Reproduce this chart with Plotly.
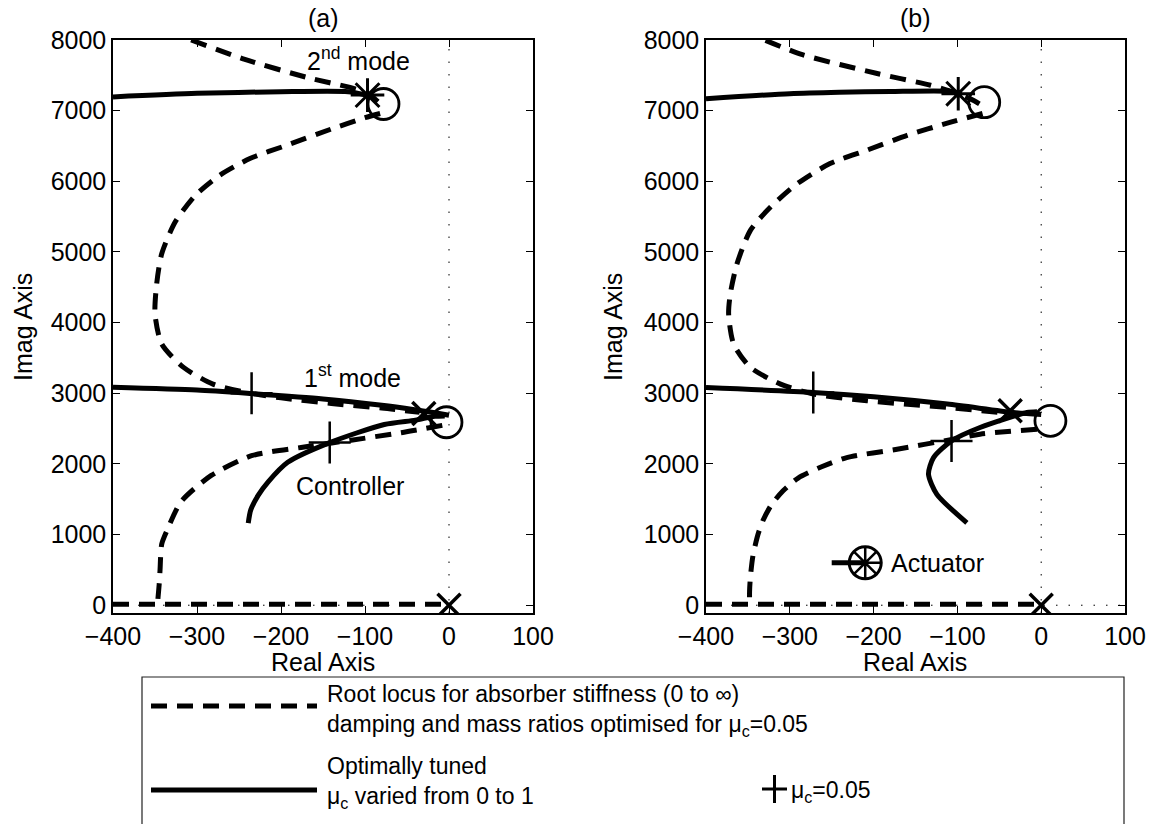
import plotly.graph_objects as go

W, H = 1155, 824

# ---------------- data ----------------
# panel (a)
a_dash_top_x = [-307, -244, -169, -111, -95, -85, -76]
a_dash_top_y = [8000, 7730, 7470, 7306, 7230, 7130, 7030]
a_dash_s_x = [-82, -100, -140, -193, -237, -273, -302, -326, -342, -348, -350, -342, -316, -281, -241, -200, -140, -80, -35]
a_dash_s_y = [6960, 6900, 6740, 6511, 6322, 6085, 5801, 5423, 4974, 4549, 4123, 3697, 3366, 3130, 3012, 2935, 2855, 2790, 2730]
a_dash_low_x = [-8, -57, -136, -176, -235, -283, -319, -336, -342, -344, -345, -347]
a_dash_low_y = [2545, 2442, 2302, 2233, 2116, 1837, 1465, 1050, 865, 500, 298, 30]
a_dash_real_x = [-400, 0]
a_dash_real_y = [15, 15]
a_sol_2nd_x = [-400, -300, -200, -120, -100]
a_sol_2nd_y = [7195, 7245, 7268, 7268, 7225]
a_sol_1st_x = [-400, -300, -235, -150, -80, -41, -15, 0]
a_sol_1st_y = [3084, 3045, 2995, 2920, 2830, 2767, 2720, 2690]
a_sol_ctrl_x = [-5, -17, -40, -77, -142, -192, -215, -227, -236, -239]
a_sol_ctrl_y = [2680, 2674, 2620, 2558, 2302, 2023, 1750, 1558, 1350, 1163]
a_zero_x = [-78, -3]
a_zero_y = [7094, 2590]
a_pole_x = [-30, 0]
a_pole_y = [2715, 0]
a_star_x = [-97]
a_star_y = [7220]
a_plus_x = [-235, -142]
a_plus_y = [3000, 2302]

# panel (b)
b_dash_top_x = [-329, -285, -197, -132, -99, -80, -66]
b_dash_top_y = [7995, 7793, 7529, 7360, 7240, 7140, 7040]
b_dash_s_x = [-70, -110, -160, -208, -252, -291, -323, -347, -363, -371, -373, -367, -347, -311, -272, -208, -112, -33]
b_dash_s_y = [6960, 6830, 6650, 6440, 6251, 5967, 5636, 5305, 4833, 4407, 4123, 3697, 3366, 3130, 2989, 2894, 2799, 2707]
b_dash_low_x = [-5, -73, -105, -172, -232, -262, -290, -308, -322, -332, -338, -344, -347, -348, -348]
b_dash_low_y = [2492, 2421, 2350, 2208, 2090, 1960, 1800, 1620, 1420, 1200, 1000, 700, 400, 200, 20]
b_dash_real_x = [-400, 0]
b_dash_real_y = [15, 15]
b_sol_2nd_x = [-400, -300, -241, -180, -110, -99]
b_sol_2nd_y = [7170, 7240, 7260, 7272, 7274, 7240]
b_sol_1st_x = [-400, -272, -200, -112, -33, 0]
b_sol_1st_y = [3082, 3012, 2950, 2847, 2728, 2700]
b_sol_act_x = [-5, -17, -73, -107, -128.5, -134.5, -124.5, -88.7]
b_sol_act_y = [2740, 2728, 2515, 2326, 2090, 1854, 1570, 1167]
b_zero_x = [-68, 11]
b_zero_y = [7120, 2610]
b_pole_x = [-37, 0]
b_pole_y = [2752, 0]
b_star_x = [-99]
b_star_y = [7240]
b_plus_x = [-272, -107]
b_plus_y = [3010, 2326]
b_act_line_x = [-250, -210]
b_act_line_y = [600, 600]

x_ticks = [-400, -300, -200, -100, 0, 100]
y_ticks = [0, 1000, 2000, 3000, 4000, 5000, 6000, 7000, 8000]
x_range = [-400, 100]
y_range = [-110, 8000]

# ---------------- figure ----------------
DASH = "16px,10px"
LW = 5
fig = go.Figure()


def line(x, y, dash, xa, ya, w=LW, smooth=True):
    ln = dict(color="black", width=w, dash=dash)
    if smooth and len(x) > 2:
        ln.update(shape="spline", smoothing=0.7)
    fig.add_trace(go.Scatter(x=x, y=y, mode="lines", xaxis=xa, yaxis=ya, line=ln,
                             showlegend=False, hoverinfo="skip"))


def marks(x, y, symbol, size, lw, xa, ya):
    fig.add_trace(go.Scatter(x=x, y=y, mode="markers", xaxis=xa, yaxis=ya,
                             marker=dict(symbol=symbol, size=size, color="black",
                                         line=dict(color="black", width=lw)),
                             showlegend=False, hoverinfo="skip"))


for xa, ya, d in [("x", "y", "a"), ("x2", "y2", "b")]:
    g = globals()
    line(g[d + "_dash_top_x"], g[d + "_dash_top_y"], DASH, xa, ya)
    line(g[d + "_dash_s_x"], g[d + "_dash_s_y"], DASH, xa, ya)
    line(g[d + "_dash_low_x"], g[d + "_dash_low_y"], DASH, xa, ya)
    line(g[d + "_dash_real_x"], g[d + "_dash_real_y"], DASH, xa, ya)
    line(g[d + "_sol_2nd_x"], g[d + "_sol_2nd_y"], "solid", xa, ya)
    line(g[d + "_sol_1st_x"], g[d + "_sol_1st_y"], "solid", xa, ya)
    third = a_sol_ctrl_x if d == "a" else b_sol_act_x
    third_y = a_sol_ctrl_y if d == "a" else b_sol_act_y
    line(third, third_y, "solid", xa, ya)
    marks(g[d + "_zero_x"], g[d + "_zero_y"], "circle-open", 31, 2.8, xa, ya)
    marks(g[d + "_pole_x"], g[d + "_pole_y"], "x-thin-open", 23, 3.5, xa, ya)
    marks(g[d + "_star_x"], g[d + "_star_y"], "asterisk-open", 28, 3, xa, ya)
    marks(g[d + "_plus_x"], g[d + "_plus_y"], "cross-thin-open", 30, 2.5, xa, ya)

# actuator legend glyph in panel (b)
line(b_act_line_x, b_act_line_y, "solid", "x2", "y2", w=5, smooth=False)
marks(b_act_line_x[-1:], b_act_line_y[-1:], "circle-open", 32, 3, "x2", "y2")
marks(b_act_line_x[-1:], b_act_line_y[-1:], "asterisk-open", 26, 2.5, "x2", "y2")


def px(x):
    return x / W


def py(y):
    return 1 - y / H


FONT = "Liberation Sans, Arial, Helvetica, sans-serif"
FS = 25
axis_common = dict(range=x_range, tickvals=x_ticks, ticks="inside", ticklen=7,
                   showline=True, linecolor="black", linewidth=1.5, mirror="ticks",
                   showgrid=False, zeroline=False, tickcolor="black", automargin=False,
                   tickfont=dict(size=FS, color="black", family=FONT))
yaxis_common = dict(range=y_range, tickvals=y_ticks, ticks="inside", ticklen=7,
                    showline=True, linecolor="black", linewidth=1.5, mirror="ticks",
                    showgrid=False, zeroline=False, tickcolor="black", automargin=False,
                    tickfont=dict(size=FS, color="black", family=FONT))

ytop, ybot = 40, 613
fig.update_layout(
    width=W, height=H, margin=dict(l=0, r=0, t=0, b=0, pad=0),
    paper_bgcolor="white", plot_bgcolor="white",
    font=dict(family=FONT, color="black"),
    xaxis=dict(domain=[px(113), px(533)], anchor="y", **axis_common),
    yaxis=dict(domain=[py(ybot), py(ytop)], anchor="x", **yaxis_common),
    xaxis2=dict(domain=[px(706), px(1125)], anchor="y2", **axis_common),
    yaxis2=dict(domain=[py(ybot), py(ytop)], anchor="x2", **yaxis_common),
)

shapes = []
# dotted zero lines
for xr, yr, xend in [("x", "y", 0), ("x2", "y2", 100)]:
    shapes.append(dict(type="line", xref=xr, yref=yr + " domain", x0=0, x1=0, y0=0, y1=1,
                       line=dict(color="black", width=1, dash="1.5px,11px"), layer="below"))
    shapes.append(dict(type="line", xref=xr, yref=yr, x0=-400, x1=xend, y0=0, y1=0,
                       line=dict(color="black", width=1, dash="1.5px,11px"), layer="below"))

# legend box
shapes.append(dict(type="rect", xref="paper", yref="paper", x0=px(142), x1=px(1124),
                   y0=py(830), y1=py(677), line=dict(color="#222", width=1.2)))
shapes.append(dict(type="line", xref="paper", yref="paper", x0=px(151), x1=px(317),
                   y0=py(706), y1=py(706), line=dict(color="black", width=5, dash=DASH)))
shapes.append(dict(type="line", xref="paper", yref="paper", x0=px(151), x1=px(317),
                   y0=py(790), y1=py(790), line=dict(color="black", width=5)))
shapes.append(dict(type="line", xref="paper", yref="paper", x0=px(762), x1=px(787),
                   y0=py(789), y1=py(789), line=dict(color="black", width=3)))
shapes.append(dict(type="line", xref="paper", yref="paper", x0=px(774.5), x1=px(774.5),
                   y0=py(775), y1=py(803), line=dict(color="black", width=3)))
fig.update_layout(shapes=shapes)

ann = []


def text_paper(t, x, y, size=FS, xanchor="center", yanchor="middle", angle=0, align="center"):
    ann.append(dict(text=t, x=px(x), y=py(y), xref="paper", yref="paper",
                    showarrow=False, xanchor=xanchor, yanchor=yanchor, textangle=angle,
                    align=align, borderpad=0,
                    font=dict(size=size, color="black", family=FONT)))


def text_data(t, x, y, xr, yr, size=FS, xanchor="center"):
    ann.append(dict(text=t, x=x, y=y, xref=xr, yref=yr, showarrow=False,
                    xanchor=xanchor, yanchor="middle",
                    font=dict(size=size, color="black", family=FONT)))


text_paper("(a)", 323, 18)
text_paper("(b)", 915, 18)
text_paper("Imag Axis", 23, 327, angle=-90)
text_paper("Imag Axis", 613, 327, angle=-90)
text_paper("Real Axis", 323, 662)
text_paper("Real Axis", 915, 662)

text_data("2<sup>nd</sup> mode", -108, 7730, "x", "y")
text_data("1<sup>st</sup> mode", -115, 3250, "x", "y")
text_data("Controller", -118, 1690, "x", "y")
text_data("Actuator", -182, 600, "x2", "y2", xanchor="left")

LFS = 23
text_paper("Root locus for absorber stiffness (0 to \u221e)<br>"
           "damping and mass ratios optimised for \u03bc<sub>c</sub>=0.05",
           326, 710, size=LFS, xanchor="left", align="left")
text_paper("Optimally tuned<br>\u03bc<sub>c</sub> varied from 0 to 1",
           326, 782, size=LFS, xanchor="left", align="left")
text_paper("\u03bc<sub>c</sub>=0.05", 790, 791, size=LFS, xanchor="left")

fig.update_layout(annotations=ann)
fig.write_html("out.html", config={"displayModeBar": False},
               post_script="document.body.style.margin='0';document.body.style.overflow='hidden';")
